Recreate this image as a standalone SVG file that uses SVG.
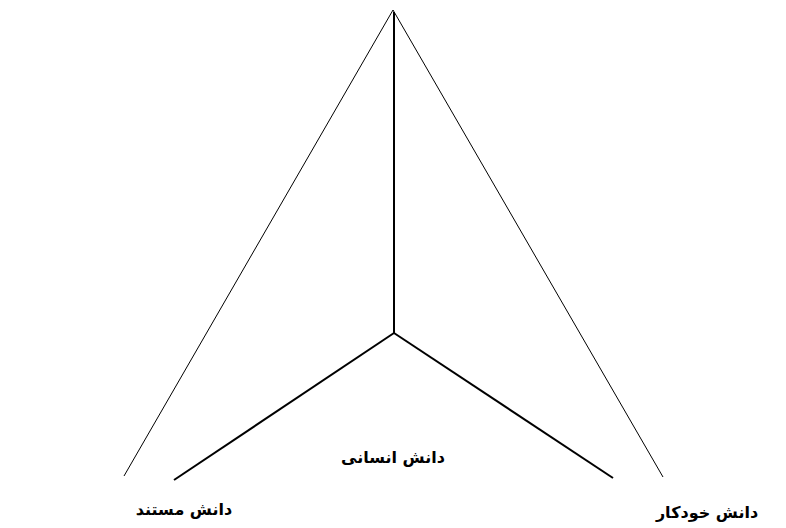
<svg xmlns="http://www.w3.org/2000/svg" width="786" height="528" viewBox="0 0 786 528">
<style>
.thin{stroke:#000;stroke-width:1;fill:none}
.thick{stroke:#000;stroke-width:2;fill:none}
.lbl{font-family:"DejaVu Sans","Noto Sans",sans-serif;font-weight:bold;font-size:16px;fill:#000;text-anchor:middle;direction:rtl}
</style>
<rect width="786" height="528" fill="#fff"/>
<g id="connectors">
<line class="thin" x1="393" y1="10" x2="124" y2="476"/>
<line class="thin" x1="393" y1="10" x2="663" y2="477"/>
<line class="thick" x1="394" y1="12" x2="394" y2="333"/>
<line class="thick" x1="394" y1="333" x2="174" y2="480"/>
<line class="thick" x1="394" y1="333" x2="613" y2="478"/>
</g>
<g id="node-human"><text class="lbl" x="393" y="463">دانش انسانی</text></g>
<g id="node-documented"><text class="lbl" x="184" y="515">دانش مستند</text></g>
<g id="node-automatic"><text class="lbl" x="707" y="518">دانش خودکار</text></g>
</svg>
